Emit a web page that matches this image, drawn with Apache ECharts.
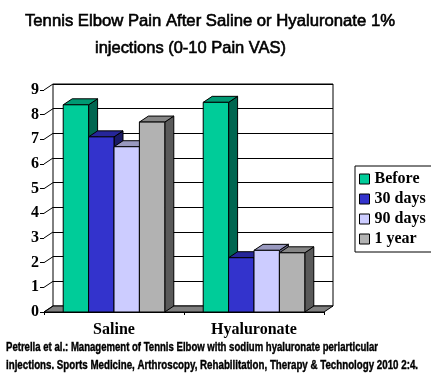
<!DOCTYPE html>
<html><head><meta charset="utf-8">
<script src="https://cdn.jsdelivr.net/npm/echarts@6/dist/echarts.min.js"></script>
<style>html,body{margin:0;padding:0;background:#fff}#c{width:431px;height:380px}</style>
</head><body><div id="c"></div>
<script>
const categories = ['Saline', 'Hyaluronate'];
const seriesNames = ['Before', '30 days', '90 days', '1 year'];
const before = [8.4, 8.5];
const days30 = [7.1, 2.2];
const days90 = [6.7, 2.5];
const year1 = [7.7, 2.4];
const yTicks = [0, 1, 2, 3, 4, 5, 6, 7, 8, 9];
const titleLines = ['Tennis Elbow Pain After Saline or Hyaluronate 1%', 'injections (0-10 Pain VAS)'];
const footerLines = ['Petrella et al.: Management of Tennis Elbow with sodium hyaluronate periarticular',
  'injections. Sports Medicine, Arthroscopy, Rehabilitation, Therapy & Technology 2010 2:4.'];

const allValues = [before, days30, days90, year1];
const frontColors = ['#00CC99', '#3333CC', '#CCCCFF', '#B2B2B2'];
const topColors = ['#009973', '#262699', '#9999BF', '#868686'];
const sideColors = ['#006650', '#1A1A66', '#666680', '#5A5A5A'];
const DX = 9, DY = -6, BAR_FRAC = 0.1814;
const SERIF = '"Liberation Serif", "Times New Roman", serif';
const SANS = '"Liberation Sans", Arial, sans-serif';

const mctx = document.createElement('canvas').getContext('2d');
function fit(text, font, target) { mctx.font = font; return target / mctx.measureText(text).width; }
function txt(text, font, x, y, target, sw) {
  return { type: 'text', x: x, y: y, scaleX: fit(text, font, target), z: 100,
    style: { text: text, font: font, fill: '#000', stroke: '#000', lineWidth: sw,
      textAlign: 'left', textVerticalAlign: 'middle' } };
}
const tFont = '16.5px ' + SANS;
const fFont = 'bold 12.5px ' + SANS;

function makeBar(k) {
  return function (params, api) {
    const ci = api.value(0), v = api.value(1);
    const top = api.coord([ci, v]);
    const bot = api.coord([ci, 0]);
    const band = api.size([1, 0])[0];
    const bw = band * BAR_FRAC;
    const x0 = top[0] - 2 * bw + k * bw, x1 = x0 + bw;
    const yt = top[1], yb = bot[1];
    const st = (c) => ({ fill: c, stroke: '#000', lineWidth: 1 });
    return { type: 'group', children: [
      { type: 'polygon', shape: { points: [[x1, yb], [x1, yt], [x1 + DX, yt + DY], [x1 + DX, yb + DY]] }, style: st(sideColors[k]) },
      { type: 'polygon', shape: { points: [[x0, yt], [x1, yt], [x1 + DX, yt + DY], [x0 + DX, yt + DY]] }, style: st(topColors[k]) },
      { type: 'rect', shape: { x: x0, y: yt, width: bw, height: yb - yt }, style: st(frontColors[k]) }
    ] };
  };
}

const series = [
  { type: 'custom', name: '_floor', xAxisIndex: 0, yAxisIndex: 0, z: 1, silent: true,
    data: [[0, 0]],
    renderItem: function (params, api) {
      const band = api.size([1, 0])[0];
      const a = api.coord([0, 0]), b = api.coord([categories.length - 1, 0]);
      const l = a[0] - band / 2, r = b[0] + band / 2, y = a[1];
      return { type: 'polygon', shape: { points: [[l, y], [r, y], [r + DX, y + DY], [l + DX, y + DY]] },
        style: { fill: '#808080', stroke: '#000', lineWidth: 1 } };
    } },
  { type: 'custom', name: '_ticks', xAxisIndex: 0, yAxisIndex: 0, z: 1, silent: true,
    data: yTicks.map(v => [0, v]),
    renderItem: function (params, api) {
      const band = api.size([1, 0])[0];
      const p = api.coord([0, api.value(1)]);
      const l = p[0] - band / 2;
      return { type: 'line', shape: { x1: l, y1: p[1], x2: l + DX, y2: p[1] + DY }, style: { stroke: '#000', lineWidth: 1 } };
    } }
];
seriesNames.forEach((n, k) => {
  series.push({ type: 'custom', name: n, xAxisIndex: 0, yAxisIndex: 0, z: 5 + k,
    itemStyle: { color: frontColors[k] },
    data: allValues[k].map((v, i) => [i, v]),
    renderItem: makeBar(k) });
});

const chart = echarts.init(document.getElementById('c'), null, { renderer: 'canvas' });
chart.setOption({
  animation: false,
  backgroundColor: '#fff',
  grid: [
    { left: 44, right: 107, top: 90, bottom: 68 },
    { left: 53, right: 98, top: 84, bottom: 74, show: true, borderColor: '#000', borderWidth: 1, backgroundColor: '#fff', z: 0 }
  ],
  xAxis: [
    { type: 'category', gridIndex: 0, data: categories,
      axisLine: { show: true, lineStyle: { color: '#000', width: 1 } },
      axisTick: { show: true, length: 3, lineStyle: { color: '#000' } },
      axisLabel: { color: '#000', fontFamily: SERIF, fontWeight: 'bold', fontSize: 16, margin: 10 } },
    { type: 'category', gridIndex: 1, data: categories, show: false }
  ],
  yAxis: [
    { type: 'value', gridIndex: 0, min: 0, max: 9, interval: 1,
      axisLine: { show: false }, splitLine: { show: false },
      axisTick: { show: true, length: 4, lineStyle: { color: '#000' } },
      axisLabel: { color: '#000', fontFamily: SERIF, fontWeight: 'bold', fontSize: 16, margin: 5,
        formatter: v => String(yTicks[v] !== undefined ? yTicks[v] : v) } },
    { type: 'value', gridIndex: 1, min: 0, max: 9, interval: 1,
      axisLine: { show: false }, axisTick: { show: false }, axisLabel: { show: false },
      splitLine: { show: true, lineStyle: { color: '#000', width: 1 } } }
  ],
  legend: {
    data: seriesNames, orient: 'vertical', left: 355, top: 166,
    backgroundColor: '#fff', borderColor: '#000', borderWidth: 1,
    padding: [5, 6, 5, 4], itemWidth: 10, itemHeight: 10, itemGap: 4, icon: 'rect',
    itemStyle: { borderColor: '#000', borderWidth: 1 },
    textStyle: { color: '#000', fontFamily: SERIF, fontWeight: 'bold', fontSize: 16 },
    selectedMode: false
  },
  graphic: [
    txt(titleLines[0], tFont, 25, 21, 370, 0.6),
    txt(titleLines[1], tFont, 95, 48, 191, 0.6),
    txt(footerLines[0], fFont, 6, 348, 372, 0.4),
    txt(footerLines[1], fFont, 6, 366, 412, 0.4)
  ],
  series: series
});
</script></body></html>
